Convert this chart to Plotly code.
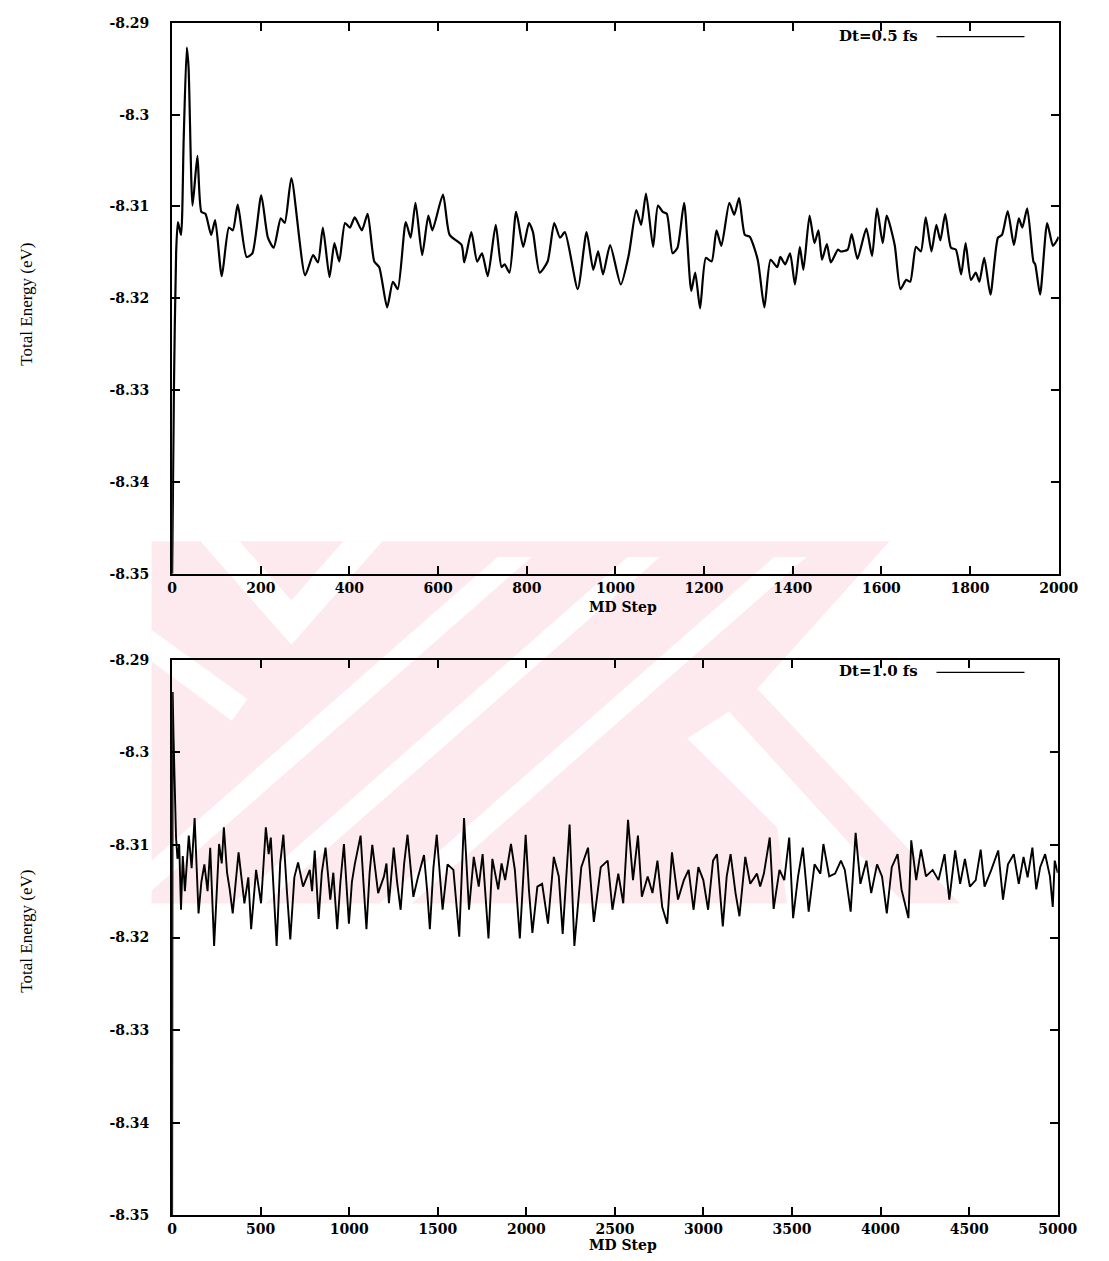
import plotly.graph_objects as go

# ---------------- data ----------------
# Dt = 0.5 fs run: MD step vs total energy (eV)
steps_05 = [0, 4, 9, 13, 20, 26, 33, 37, 46, 57, 66, 75, 88, 97, 112, 128, 137, 148, 168, 181,
            201, 216, 229, 245, 254, 269, 300, 318, 329, 340, 355, 366, 377, 390, 401, 412, 428,
            441, 456, 467, 485, 498, 509, 527, 538, 549, 564, 578, 587, 611, 626, 653, 659, 675,
            688, 699, 712, 730, 743, 750, 761, 776, 792, 805, 814, 829, 847, 862, 875, 886, 915,
            935, 950, 961, 972, 988, 1012, 1030, 1047, 1058, 1069, 1085, 1096, 1107, 1116, 1129,
            1140, 1155, 1171, 1180, 1191, 1204, 1217, 1228, 1239, 1257, 1268, 1279, 1292, 1303,
            1321, 1336, 1350, 1365, 1372, 1383, 1394, 1405, 1416, 1424, 1438, 1449, 1458, 1466,
            1477, 1486, 1502, 1508, 1524, 1533, 1546, 1566, 1579, 1590, 1603, 1612, 1630, 1643,
            1656, 1665, 1678, 1689, 1700, 1713, 1724, 1733, 1744, 1757, 1768, 1780, 1790, 1802,
            1813, 1821, 1832, 1846, 1863, 1872, 1885, 1899, 1910, 1918, 1929, 1943, 1947, 1958,
            1974, 1987, 1996, 2000]
energy_05 = [-8.3500, -8.3300, -8.3150, -8.3117, -8.3131, -8.3027, -8.2927, -8.2948, -8.3099,
             -8.3045, -8.3106, -8.3108, -8.3131, -8.3115, -8.3176, -8.3123, -8.3126, -8.3098,
             -8.3155, -8.3151, -8.3088, -8.3134, -8.3145, -8.3113, -8.3118, -8.3069, -8.3175,
             -8.3153, -8.3161, -8.3123, -8.3177, -8.3140, -8.3160, -8.3118, -8.3123, -8.3112,
             -8.3126, -8.3108, -8.3160, -8.3166, -8.3210, -8.3182, -8.3190, -8.3117, -8.3134,
             -8.3096, -8.3153, -8.3110, -8.3126, -8.3087, -8.3131, -8.3142, -8.3161, -8.3128,
             -8.3160, -8.3151, -8.3176, -8.3120, -8.3166, -8.3163, -8.3172, -8.3106, -8.3144,
             -8.3118, -8.3128, -8.3172, -8.3160, -8.3118, -8.3134, -8.3128, -8.3190, -8.3128,
             -8.3169, -8.3149, -8.3174, -8.3142, -8.3185, -8.3153, -8.3104, -8.3120, -8.3086,
             -8.3144, -8.3099, -8.3106, -8.3108, -8.3151, -8.3145, -8.3096, -8.3192, -8.3172,
             -8.3211, -8.3156, -8.3160, -8.3126, -8.3143, -8.3096, -8.3109, -8.3091, -8.3131,
             -8.3133, -8.3158, -8.3210, -8.3158, -8.3166, -8.3155, -8.3163, -8.3151, -8.3185,
             -8.3144, -8.3169, -8.3110, -8.3140, -8.3126, -8.3158, -8.3141, -8.3161, -8.3147,
             -8.3149, -8.3147, -8.3130, -8.3157, -8.3124, -8.3154, -8.3102, -8.3140, -8.3110,
             -8.3142, -8.3190, -8.3180, -8.3182, -8.3144, -8.3149, -8.3112, -8.3149, -8.3120,
             -8.3137, -8.3108, -8.3145, -8.3147, -8.3174, -8.3140, -8.3180, -8.3172, -8.3182,
             -8.3156, -8.3196, -8.3134, -8.3131, -8.3105, -8.3142, -8.3113, -8.3123, -8.3102,
             -8.3160, -8.3163, -8.3196, -8.3118, -8.3143, -8.3137, -8.3133]

# Dt = 1.0 fs run
steps_10 = [0, 3, 8, 15, 22, 30, 40, 50, 60, 72, 82, 94, 110, 127, 149, 165, 182, 200, 215, 237,
            265, 280, 292, 310, 325, 342, 375, 392, 408, 430, 446, 474, 502, 529, 545, 557, 575,
            590, 610, 628, 648, 667, 690, 711, 739, 777, 790, 805, 827, 845, 866, 893, 910, 932,
            950, 970, 998, 1015, 1031, 1064, 1080, 1097, 1115, 1130, 1163, 1196, 1210, 1224, 1251,
            1270, 1290, 1310, 1329, 1362, 1389, 1422, 1440, 1455, 1475, 1494, 1527, 1555, 1588,
            1610, 1621, 1648, 1676, 1703, 1731, 1753, 1786, 1808, 1841, 1860, 1880, 1913, 1935,
            1963, 1996, 2015, 2034, 2062, 2089, 2122, 2155, 2183, 2205, 2244, 2271, 2310, 2348,
            2381, 2420, 2459, 2486, 2519, 2547, 2574, 2602, 2630, 2652, 2685, 2712, 2740, 2767,
            2795, 2822, 2856, 2889, 2916, 2944, 2971, 2999, 3026, 3054, 3076, 3109, 3131, 3153,
            3181, 3203, 3236, 3264, 3302, 3320, 3341, 3374, 3396, 3429, 3456, 3484, 3506, 3534,
            3561, 3594, 3627, 3660, 3677, 3710, 3743, 3776, 3798, 3831, 3859, 3886, 3920, 3947,
            3980, 4008, 4035, 4063, 4096, 4118, 4157, 4173, 4201, 4228, 4256, 4294, 4327, 4361,
            4388, 4421, 4449, 4476, 4504, 4537, 4565, 4587, 4625, 4664, 4691, 4719, 4752, 4780,
            4807, 4830, 4857, 4879, 4901, 4929, 4956, 4972, 4983, 5000]
energy_10 = [-8.3500, -8.2935, -8.2985, -8.3035, -8.3092, -8.3115, -8.3100, -8.3170, -8.3112,
             -8.3150, -8.3118, -8.3090, -8.3125, -8.3071, -8.3174, -8.3140, -8.3121, -8.3150,
             -8.3103, -8.3209, -8.3099, -8.3120, -8.3081, -8.3130, -8.3148, -8.3174, -8.3108,
             -8.3140, -8.3163, -8.3135, -8.3191, -8.3127, -8.3163, -8.3081, -8.3110, -8.3092,
             -8.3150, -8.3209, -8.3120, -8.3089, -8.3150, -8.3202, -8.3135, -8.3119, -8.3145,
             -8.3127, -8.3150, -8.3106, -8.3180, -8.3130, -8.3103, -8.3159, -8.3130, -8.3191,
             -8.3140, -8.3099, -8.3185, -8.3140, -8.3121, -8.3090, -8.3140, -8.3191, -8.3130,
             -8.3100, -8.3152, -8.3134, -8.3120, -8.3163, -8.3103, -8.3140, -8.3170, -8.3120,
             -8.3089, -8.3156, -8.3134, -8.3111, -8.3150, -8.3191, -8.3125, -8.3089, -8.3170,
             -8.3121, -8.3127, -8.3177, -8.3199, -8.3071, -8.3170, -8.3113, -8.3145, -8.3110,
             -8.3201, -8.3115, -8.3148, -8.3120, -8.3138, -8.3099, -8.3127, -8.3201, -8.3089,
             -8.3150, -8.3195, -8.3145, -8.3142, -8.3185, -8.3113, -8.3134, -8.3196, -8.3078,
             -8.3209, -8.3124, -8.3103, -8.3183, -8.3124, -8.3117, -8.3170, -8.3131, -8.3163,
             -8.3073, -8.3138, -8.3090, -8.3156, -8.3134, -8.3152, -8.3117, -8.3167, -8.3185,
             -8.3108, -8.3159, -8.3138, -8.3127, -8.3170, -8.3124, -8.3138, -8.3170, -8.3117,
             -8.3110, -8.3188, -8.3134, -8.3110, -8.3152, -8.3177, -8.3113, -8.3142, -8.3131,
             -8.3145, -8.3131, -8.3092, -8.3169, -8.3127, -8.3138, -8.3092, -8.3179, -8.3134,
             -8.3103, -8.3172, -8.3121, -8.3131, -8.3099, -8.3134, -8.3131, -8.3117, -8.3127,
             -8.3172, -8.3087, -8.3142, -8.3117, -8.3152, -8.3121, -8.3134, -8.3174, -8.3124,
             -8.3110, -8.3148, -8.3179, -8.3095, -8.3138, -8.3105, -8.3134, -8.3127, -8.3138,
             -8.3110, -8.3159, -8.3106, -8.3142, -8.3115, -8.3145, -8.3138, -8.3105, -8.3145,
             -8.3127, -8.3106, -8.3159, -8.3121, -8.3110, -8.3142, -8.3113, -8.3135, -8.3103,
             -8.3148, -8.3124, -8.3110, -8.3134, -8.3167, -8.3117, -8.3130]

energy_ticks = [-8.35, -8.34, -8.33, -8.32, -8.31, -8.3, -8.29]
energy_labels = ["-8.35", "-8.34", "-8.33", "-8.32", "-8.31", "-8.3", "-8.29"]
step_ticks_05 = [0, 200, 400, 600, 800, 1000, 1200, 1400, 1600, 1800, 2000]
step_ticks_10 = [0, 500, 1000, 1500, 2000, 2500, 3000, 3500, 4000, 4500, 5000]
legend_05 = "Dt=0.5 fs"
legend_10 = "Dt=1.0 fs"
x_title = "MD Step"
y_title = "Total Energy (eV)"

# ---------------- page geometry ----------------
W, H = 1109, 1261


def px(x):
    return x / W


def py(y):
    return 1 - y / H


TICK_FONT = dict(family="DejaVu Serif", size=14, color="black", weight="bold")

fig = go.Figure()
fig.add_trace(go.Scatter(x=steps_05, y=energy_05, mode="lines", xaxis="x", yaxis="y",
                         line=dict(color="black", width=2.2, shape="spline", smoothing=0.6),
                         showlegend=False, hoverinfo="skip"))
fig.add_trace(go.Scatter(x=steps_10, y=energy_10, mode="lines", xaxis="x2", yaxis="y2",
                         line=dict(color="black", width=1.9),
                         showlegend=False, hoverinfo="skip"))

axis_common = dict(showline=True, linecolor="black", linewidth=2, mirror="allticks",
                   ticks="inside", ticklen=8, tickwidth=1.5, tickcolor="black",
                   showgrid=False, zeroline=False, tickfont=TICK_FONT)

fig.update_layout(
    width=W, height=H,
    margin=dict(l=0, r=0, t=0, b=0),
    paper_bgcolor="white", plot_bgcolor="rgba(0,0,0,0)",
    showlegend=False,
    xaxis=dict(domain=[px(171), px(1078)], range=[0, 2000], tickvals=step_ticks_05,
               anchor="y", ticklabelstandoff=0, **axis_common),
    yaxis=dict(domain=[py(573), py(15)], range=[-8.35, -8.29], tickvals=energy_ticks,
               ticktext=energy_labels, anchor="x", ticklabelstandoff=18, **axis_common),
    xaxis2=dict(domain=[px(171), px(1077)], range=[0, 5000], tickvals=step_ticks_10,
                anchor="y2", ticklabelstandoff=0, **axis_common),
    yaxis2=dict(domain=[py(1223), py(660)], range=[-8.35, -8.29], tickvals=energy_ticks,
                ticktext=energy_labels, anchor="x2", ticklabelstandoff=18, **axis_common),
)

# ---------------- faint background emblem ----------------
PINK = "rgb(253,234,238)"


def poly(points, color):
    path = "M " + " L ".join(f"{px(x):.5f},{py(y):.5f}" for x, y in points) + " Z"
    return dict(type="path", path=path, xref="paper", yref="paper", layer="below",
                fillcolor=color, line=dict(width=0))


emblem = [
    poly([(150, 540), (905, 540), (760, 700), (698, 740), (790, 830), (800, 907), (150, 907)], PINK),
    poly([(720, 690), (770, 690), (977, 907), (920, 907)], PINK),
    poly([(100, 907), (135, 907), (539, 556), (504, 556)], "white"),
    poly([(233, 907), (266, 907), (670, 556), (637, 556)], "white"),
    poly([(383, 907), (416, 907), (820, 556), (787, 556)], "white"),
    poly([(200, 540), (240, 540), (293, 600), (346, 540), (386, 540), (293, 645)], "white"),
    poly([(150, 630), (150, 662), (232, 722), (248, 700)], "white"),
]
fig.update_layout(shapes=emblem)

# ---------------- legend keys and axis titles ----------------
for ytxt, label in ((28, legend_05), (672, legend_10)):
    fig.add_annotation(x=px(936), y=py(ytxt), xref="paper", yref="paper", text=label,
                       showarrow=False, xanchor="right", yanchor="middle",
                       font=dict(family="DejaVu Serif", size=15, color="black", weight="bold"))
    fig.add_shape(type="line", xref="paper", yref="paper", x0=px(953), x1=px(1043),
                  y0=py(ytxt + 1), y1=py(ytxt + 1), line=dict(color="black", width=1.3))

for ytxt in (607, 1253):
    fig.add_annotation(x=px(632), y=py(ytxt), xref="paper", yref="paper", text=x_title,
                       showarrow=False, xanchor="center", yanchor="middle",
                       font=dict(family="DejaVu Serif", size=14, color="black", weight="bold"))

for ytxt in (300, 935):
    fig.add_annotation(x=px(22), y=py(ytxt), xref="paper", yref="paper", text=y_title,
                       showarrow=False, textangle=-90, xanchor="center", yanchor="middle",
                       font=dict(family="Liberation Serif", size=17, color="black"))

fig.write_html("out.html")
